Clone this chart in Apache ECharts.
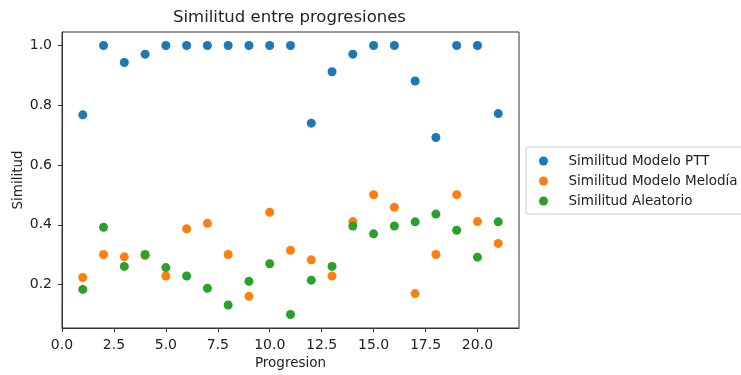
<!DOCTYPE html>
<html><head><meta charset="utf-8">
<script src="https://cdn.jsdelivr.net/npm/echarts@6/dist/echarts.min.js"></script>
<style>html,body{margin:0;padding:0;background:#fff}#c{width:741px;height:375px}</style>
</head><body><div id="c"></div>
<script>
const progresion = [1,2,3,4,5,6,7,8,9,10,11,12,13,14,15,16,17,18,19,20,21];
const simPTT = [0.768,1.0,0.943,0.971,1.0,1.0,1.0,1.0,1.0,1.0,1.0,0.740,0.912,0.971,1.0,1.0,0.881,0.692,1.0,1.0,0.772];
const simMelodia = [0.224,0.301,0.293,0.297,0.229,0.387,0.405,0.301,0.161,0.442,0.315,0.283,0.229,0.411,0.501,0.459,0.170,0.301,0.501,0.411,0.338];
const simAleatorio = [0.184,0.392,0.261,0.301,0.257,0.229,0.188,0.132,0.211,0.270,0.100,0.215,0.261,0.396,0.370,0.396,0.410,0.436,0.382,0.292,0.410];
const xTicks = [0,2.5,5,7.5,10,12.5,15,17.5,20];
const yTicks = [0.2,0.4,0.6,0.8,1.0];
const seriesNames = ['Similitud Modelo PTT','Similitud Modelo Melodía','Similitud Aleatorio'];
const colors = ['#1f77b4','#ff7f0e','#2ca02c'];

const font = 'DejaVu Sans';
const pair = arr => progresion.map((x,i)=>[x,arr[i]]);
const chart = echarts.init(document.getElementById('c'));
chart.setOption({
  animation:false,
  backgroundColor:'#fff',
  title:{text:'Similitud entre progresiones',left:173,top:9,padding:0,
    textStyle:{fontFamily:font,fontSize:16.5,fontWeight:'normal',color:'#222'}},
  grid:{left:62,top:32,right:222,bottom:47,outerBoundsMode:'none',containLabel:false,show:true,borderColor:'#333',borderWidth:1,backgroundColor:'transparent'},
  legend:{orient:'vertical',left:526,top:147,padding:[7,30,6,13],itemGap:6,itemWidth:30,itemHeight:9,
    icon:'circle',borderColor:'#ccc',borderWidth:1,borderRadius:2,
    textStyle:{fontFamily:font,fontSize:13.5,color:'#222',lineHeight:14,padding:[0,0,0,5]},
    data:seriesNames},
  xAxis:{type:'value',min:0,max:22,name:'Progresion',nameLocation:'middle',nameGap:28,nameMoveOverlap:false,
    nameTextStyle:{fontFamily:font,fontSize:13.5,color:'#222'},
    axisLine:{show:true,lineStyle:{color:'#333'}},
    axisTick:{show:true,length:4,inside:false,customValues:xTicks,lineStyle:{color:'#333'}},
    axisLabel:{customValues:xTicks,fontFamily:font,fontSize:14,color:'#222',margin:10,
      formatter:v=>v.toFixed(1)},
    splitLine:{show:false}},
  yAxis:{type:'value',min:0.055,max:1.045,name:'Similitud',nameLocation:'middle',nameGap:37,nameRotate:90,nameMoveOverlap:false,
    nameTextStyle:{fontFamily:font,fontSize:13.5,color:'#222'},
    axisLine:{show:true,lineStyle:{color:'#333'}},
    axisTick:{show:true,length:4,inside:false,customValues:yTicks,lineStyle:{color:'#333'}},
    axisLabel:{customValues:yTicks,fontFamily:font,fontSize:14,color:'#222',margin:10,
      formatter:v=>v.toFixed(1)},
    splitLine:{show:false}},
  series:[simPTT,simMelodia,simAleatorio].map((arr,i)=>({
    type:'scatter',name:seriesNames[i],data:pair(arr),symbolSize:9,
    itemStyle:{color:colors[i],opacity:1}
  }))
});
</script></body></html>
